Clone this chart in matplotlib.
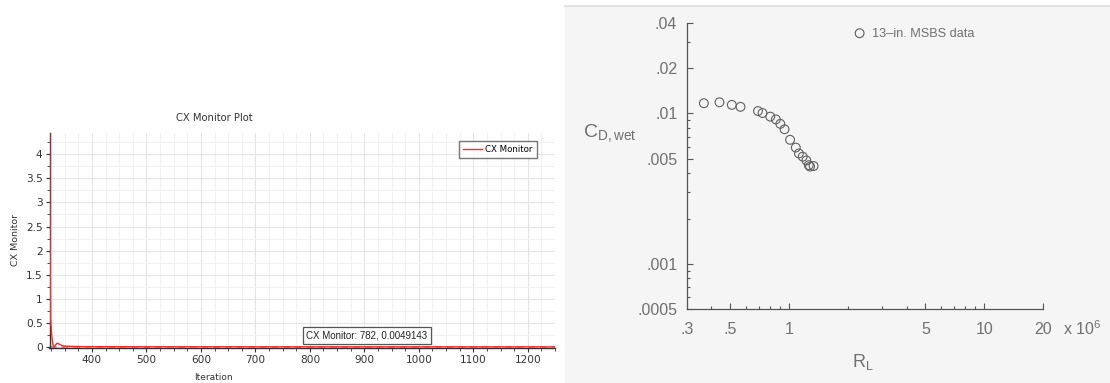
import matplotlib
matplotlib.use("Agg")
import matplotlib.pyplot as plt
from matplotlib.patches import Rectangle
from matplotlib.lines import Line2D
from matplotlib.ticker import MultipleLocator, FixedLocator, NullFormatter, LogLocator
import numpy as np

# left panel: CX monitor residual history
iterations = [322, 323, 324, 326, 328, 330, 333, 336, 340, 345, 350, 360, 380, 400, 500, 782, 1000, 1250]
cx_values = [8.0, 2.5, 0.6, 0.25, 0.06, -0.005, 0.04, 0.08, 0.06, 0.03, 0.02, 0.015, 0.01, 0.008, 0.006,
             0.0049143, 0.0045, 0.004]
probe_iter = 782
probe_value = 0.0049143

# right panel: 13-in. MSBS drag data
reynolds = [0.366, 0.440, 0.509, 0.564, 0.693, 0.731, 0.801, 0.856, 0.902, 0.948,
            1.012, 1.083, 1.123, 1.175, 1.227, 1.262, 1.336, 1.281]
cd_wet = [0.0117, 0.01187, 0.01141, 0.01107, 0.01038, 0.01006, 0.00953, 0.00913, 0.00853, 0.00785,
          0.00668, 0.00593, 0.00542, 0.00516, 0.00487, 0.00453, 0.00447, 0.00443]
x_ticks = [0.3, 0.5, 1, 5, 10, 20]
x_labels = ['.3', '.5', '1', '5', '10', '20']
y_ticks = [0.0005, 0.001, 0.005, 0.01, 0.02, 0.04]
y_labels = ['.0005', '.001', '.005', '.01', '.02', '.04']

W, H = 1110, 383
fig = plt.figure(figsize=(W / 100, H / 100), dpi=100)
fig.patch.set_facecolor('white')

# scanned page background on the right
fig.patches.append(Rectangle((565 / W, 0), 1 - 565 / W, 1 - 6 / H, transform=fig.transFigure,
                             facecolor='#f5f5f5', edgecolor='none', zorder=-10))
fig.lines.append(Line2D([565 / W, 1], [1 - 6 / H, 1 - 6 / H], transform=fig.transFigure,
                        color='#e2e2e2', lw=1.5, zorder=-9))

# ---------------- left panel ----------------
lfont = 7.6
ax = fig.add_axes([49.5 / W, 1 - 348 / H, (555 - 49.5) / W, (348 - 133) / H])
ax.set_facecolor('white')
ax.axhline(0, color='#9a9a9a', lw=1.2, dashes=(4, 3), zorder=2)
ax.plot(iterations, cx_values, color='#ff2a2a', lw=1.0, label='CX Monitor', zorder=3)
ax.set_xlim(322, 1250)
ax.set_ylim(-0.02, 4.44)
ax.xaxis.set_major_locator(MultipleLocator(100))
ax.xaxis.set_minor_locator(MultipleLocator(25))
ax.yaxis.set_major_locator(MultipleLocator(0.5))
ax.yaxis.set_minor_locator(MultipleLocator(0.25))
ax.yaxis.set_major_formatter(plt.FuncFormatter(lambda v, p: ('%g' % v)))
ax.grid(which='major', color='#e4e4e4', lw=0.8)
ax.grid(which='minor', color='#f1f1f1', lw=0.8)
ax.set_axisbelow(True)
for s in ['top', 'right']:
    ax.spines[s].set_visible(False)
for s in ['left', 'bottom']:
    ax.spines[s].set_color('#333333')
    ax.spines[s].set_linewidth(1.0)
ax.tick_params(which='major', length=3, width=0.8, color='#333333', labelsize=lfont, labelcolor='#333333', pad=2)
ax.tick_params(which='minor', length=2, width=0.6, color='#333333')
ax.legend(loc='upper right', bbox_to_anchor=(0.973, 0.985), fontsize=6.2, frameon=True, fancybox=False,
          edgecolor='#555555', handlelength=2.2, borderpad=0.5, handletextpad=0.4)
ax.annotate('CX Monitor: %d, %s' % (probe_iter, probe_value), xy=(probe_iter, probe_value),
            xytext=(6, 6), textcoords='offset pixels', ha='left', va='bottom', fontsize=7,
            family='Liberation Sans', color='#222222',
            bbox=dict(boxstyle='square,pad=0.35', facecolor='white', edgecolor='#555555', lw=0.9))
fig.text(214 / W, 1 - 118 / H, 'CX Monitor Plot', ha='center', va='center', fontsize=7.2, color='#333333')
fig.text(213 / W, 1 - 377 / H, 'Iteration', ha='center', va='center', fontsize=6.5, color='#333333')
fig.text(15 / W, 1 - 240 / H, 'CX Monitor', ha='center', va='center', rotation=90, fontsize=6.8, color='#333333')

# ---------------- right panel ----------------
plt.rcParams['mathtext.fontset'] = 'custom'
plt.rcParams['mathtext.rm'] = 'Liberation Sans'
plt.rcParams['mathtext.it'] = 'Liberation Sans'
gray = '#707070'
rfont = 'Liberation Sans'
rsize = 11.5
ax2 = fig.add_axes([687 / W, 1 - 309 / H, (1043 - 687) / W, (309 - 23) / H])
ax2.set_facecolor('none')
ax2.set_xscale('log')
ax2.set_yscale('log')
ax2.scatter(reynolds, cd_wet, s=40, facecolors='none', edgecolors='#606060', linewidths=0.8,
            label='13\u2013in. MSBS data', zorder=3)
ax2.set_xlim(0.3, 20)
ax2.set_ylim(0.0005, 0.04)
ax2.xaxis.set_major_locator(FixedLocator(x_ticks))
ax2.set_xticklabels(x_labels)
ax2.yaxis.set_major_locator(FixedLocator(y_ticks))
ax2.set_yticklabels(y_labels)
ax2.xaxis.set_minor_locator(LogLocator(base=10, subs=np.arange(2, 10)))
ax2.yaxis.set_minor_locator(LogLocator(base=10, subs=np.arange(2, 10)))
ax2.xaxis.set_minor_formatter(NullFormatter())
ax2.yaxis.set_minor_formatter(NullFormatter())
for s in ['top', 'right']:
    ax2.spines[s].set_visible(False)
for s in ['left', 'bottom']:
    ax2.spines[s].set_color('#555555')
    ax2.spines[s].set_linewidth(0.9)
ax2.tick_params(which='both', direction='in', color='#555555', width=0.8)
ax2.tick_params(which='major', length=4)
ax2.tick_params(which='minor', length=2.5)
ax2.tick_params(axis='x', which='major', pad=9)
ax2.tick_params(axis='y', which='major', pad=7)
for lab in ax2.get_xticklabels() + ax2.get_yticklabels():
    lab.set_fontfamily(rfont)
    lab.set_fontsize(rsize)
    lab.set_color(gray)
ax2.legend(loc='center left', bbox_to_anchor=(0.44, 0.963), frameon=False, handlelength=0.7,
           handletextpad=0.6, prop={'family': rfont, 'size': 9.2}, labelcolor=gray, scatterpoints=1)
fig.text(583 / W, 1 - 133 / H, r'C$_{\rm D,wet}$', ha='left', va='center', fontsize=14,
         family=rfont, color=gray)
fig.text(852 / W, 1 - 362 / H, r'R$_{\rm L}$', ha='left', va='center', fontsize=13, family=rfont, color=gray)
fig.text(1063 / W, 1 - 329 / H, r'x 10$^{6}$', ha='left', va='center', fontsize=rsize, family=rfont, color=gray)

fig.savefig('out.png', dpi=100)
